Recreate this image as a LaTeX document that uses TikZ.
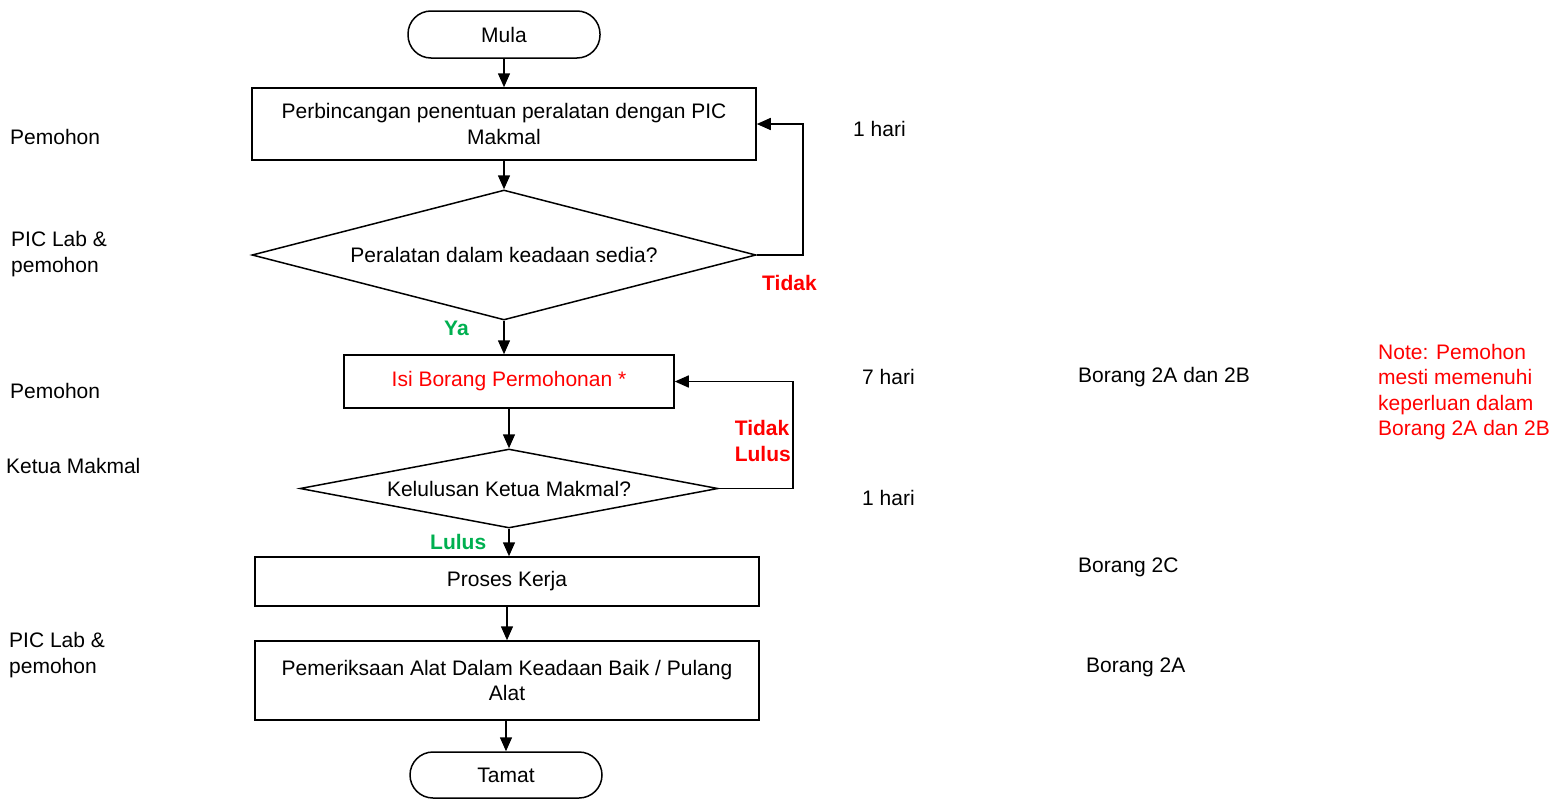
\documentclass[tikz,border=0pt]{standalone}
\usepackage{fontspec}
\setmainfont{Liberation Sans}
\usetikzlibrary{arrows.meta,shapes.geometric}
\definecolor{nred}{RGB}{255,0,0}
\definecolor{ngreen}{RGB}{0,176,80}
\begin{document}
\begin{tikzpicture}[x=1pt,y=-1pt,
  every node/.style={font=\fontsize{21}{25.5}\selectfont, inner sep=0pt},
  line/.style={line width=1.5pt},
  arr/.style={line width=1.5pt,-{Triangle[length=14pt,width=12pt]}},
  term/.style={draw,line width=1.5pt,rectangle,rounded corners=23pt,align=center},
  proc/.style={draw,line width=1.5pt,rectangle,align=center},
  deci/.style={draw,line width=1.5pt,diamond,align=center},
  lbl/.style={anchor=west,align=left},
  yes/.style={text=ngreen,font=\fontsize{21}{25.5}\selectfont\bfseries},
  no/.style={text=nred,font=\fontsize{21}{25.5}\selectfont\bfseries,align=left}
]
\useasboundingbox (0,0) rectangle (1555,798);

\node[term,minimum width=192pt,minimum height=47pt] (mula) at (504,34.5) {Mula};
\node[proc,minimum width=504pt,minimum height=72pt] (b1) at (504,124) {Perbincangan penentuan peralatan dengan PIC\\Makmal};
\node[deci,minimum width=504pt,minimum height=130pt,aspect=3.88] (d1) at (504,255) {Peralatan dalam keadaan sedia?};
\node[proc,minimum width=330pt,minimum height=53pt,text=nred] (b2) at (509,381.5) {Isi Borang Permohonan *};
\node[deci,minimum width=418pt,minimum height=79pt,aspect=5.3] (d2) at (509,488.5) {Kelulusan Ketua Makmal?};
\node[proc,minimum width=504pt,minimum height=49pt] (b3) at (507,581.5) {Proses Kerja};
\node[proc,minimum width=504pt,minimum height=79pt] (b4) at (507,680.5) {Pemeriksaan Alat Dalam Keadaan Baik / Pulang\\Alat};
\node[term,minimum width=192pt,minimum height=46pt] (tamat) at (506,775) {Tamat};

\draw[arr] (mula) -- (b1);
\draw[arr] (b1) -- (d1);
\draw[arr] (d1.south) -- (d1.south |- b2.north);
\draw[arr] (b2.south -| d2.north) -- (d2.north);
\draw[arr] (d2.south) -- (d2.south |- b3.north);
\draw[arr] (b3.south -| b4.north) -- (b4.north);
\draw[arr] (b4.south -| tamat.north) -- (tamat.north);
\draw[arr] (d1.east) -- ++(46,0) |- (b1.east);
\draw[arr] (d2.east) -- ++(74,0) |- (b2.east);

\node[no,anchor=west] (tidak1) at (762,283) {Tidak};
\node[yes,anchor=west] (ya) at (444,328) {Ya};
\node[no,anchor=east] (tidak2) at (791,441) {Tidak\\Lulus};
\node[yes,anchor=west] (lulus) at (430,542) {Lulus};

\node[lbl] (l1) at (10,137) {Pemohon};
\node[lbl] (l2) at (11,254) {PIC Lab \&\\pemohon};
\node[lbl] (l3) at (10,391) {Pemohon};
\node[lbl] (l4) at (6,466) {Ketua Makmal};
\node[lbl] (l5) at (9,655) {PIC Lab \&\\pemohon};

\node[lbl] (h1) at (853,129) {1 hari};
\node[lbl] (h2) at (862,377) {7 hari};
\node[lbl] (h3) at (862,498) {1 hari};
\node[lbl] (f1) at (1078,377) {Borang 2A dan 2B};
\node[lbl] (f2) at (1078,567) {Borang 2C};
\node[lbl] (f3) at (1086,667) {Borang 2A};
\node[lbl,text=nred] (note) at (1378,392) {Note: Pemohon\\mesti memenuhi\\keperluan dalam\\Borang 2A dan 2B};
\end{tikzpicture}
\end{document}
